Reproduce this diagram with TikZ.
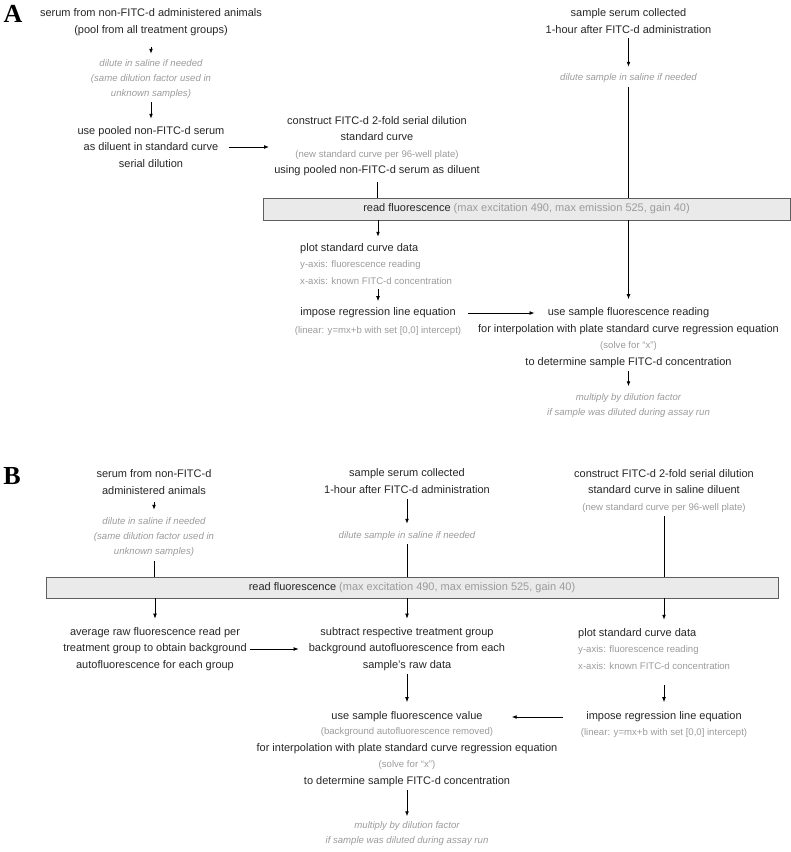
\documentclass[tikz,border=0pt]{standalone}
\usepackage{fontspec}
\setmainfont{Liberation Sans}
\newfontfamily\panelfont{Liberation Serif}
\usetikzlibrary{arrows.meta}
\definecolor{notegray}{RGB}{155,155,155}
\definecolor{boxgray}{RGB}{234,234,234}
\definecolor{edgegray}{RGB}{95,95,95}
\newcommand{\gr}[1]{{\fontsize{9.6}{15}\selectfont\color{notegray}#1}}
\begin{document}
\begin{tikzpicture}[x=1pt,y=-1pt,
                    txt/.style={align=center,inner sep=0pt,font=\fontsize{11}{16.5}\selectfont,text=black!85},
                    note/.style={align=center,inner sep=0pt,font=\fontsize{9.6}{15}\selectfont\itshape,text=notegray},
                    sub/.style={align=center,inner sep=0pt,font=\fontsize{9.6}{15}\selectfont,text=notegray},
                    readbox/.style={draw=edgegray,fill=boxgray,line width=0.8pt,inner sep=0pt,font=\fontsize{11}{16}\selectfont,text=black!85},
                    panel/.style={inner sep=0pt,font=\panelfont\bfseries\fontsize{26}{26}\selectfont},
                    arr/.style={-{Latex[length=5pt,width=3.8pt]},line width=0.8pt},
                    lin/.style={line width=0.8pt}]
                        \useasboundingbox (0,0) rectangle (791,852);
                        % panel A
                        \node[panel] (labA) at (13,14) {A};
                        \node[txt] (srmA) at (151,22) {serum from non-FITC-d administered animals\\(pool from all treatment groups)};
                        \node[note] (dilA) at (151,79) {dilute in saline if needed\\(same dilution factor used in\\unknown samples)};
                        \node[txt] (poolA) at (151,147) {use pooled non-FITC-d serum\\as diluent in standard curve\\serial dilution};
                        \node[txt] (stdA) at (377,146) {construct FITC-d 2-fold serial dilution\\standard curve\\\gr{(new standard curve per 96-well plate)}\\using pooled non-FITC-d serum as diluent};
                        \node[txt] (smpA) at (628.5,21) {sample serum collected\\1-hour after FITC-d administration};
                        \node[note] (sdilA) at (628.5,78) {dilute sample in saline if needed};
                        \node[readbox,minimum width=527pt,minimum height=22pt] (readA) at (526.5,209) {read fluorescence \textcolor{notegray}{(max excitation 490, max emission 525, gain 40)}};
                        \node[txt,align=left,anchor=west] (plotA) at (300,264) {plot standard curve data\\\gr{y-axis: fluorescence reading}\\\gr{x-axis: known FITC-d concentration}};
                        \node[txt] (regA) at (378,313) {impose regression line equation};
                        \node[sub] (regNoteA) at (378,331) {(linear: y=mx+b with set [0,0] intercept)};
                        \node[txt] (useA) at (628.5,313) {use sample fluorescence reading};
                        \node[txt] (useInfoA) at (628.5,346) {for interpolation with plate standard curve regression equation\\\gr{(solve for ``x'')}\\to determine sample FITC-d concentration};
                        \node[note] (mulA) at (628.5,406) {multiply by dilution factor\\if sample was diluted during assay run};
                        \draw[arr,shorten <=11.5pt,shorten >=5.5pt] (srmA) -- (dilA);
                        \draw[arr,shorten <=3.5pt,shorten >=7.5pt] (dilA) -- (poolA);
                        \draw[arr,shorten <=4pt,shorten >=5pt] (poolA.east) -- (poolA.east -| stdA.west);
                        \draw[lin,shorten <=5.5pt] (stdA.south) -- (stdA.south |- readA.north);
                        \draw[arr,shorten <=4.5pt,shorten >=6.5pt] (smpA) -- (sdilA);
                        \draw[lin,shorten <=4.5pt] (sdilA.south) -- (sdilA.south |- readA.north);
                        \draw[arr,shorten >=8.5pt] (readA.south -| useA) -- (useA.north);
                        \draw[arr,shorten >=6.5pt] (readA.south -| regA) -- (plotA.north -| regA);
                        \draw[arr,shorten <=4.5pt,shorten >=6.5pt] (plotA.south -| regA) -- (regA.north);
                        \draw[arr,shorten <=12pt,shorten >=13pt] (regA.east) -- (regA.east -| useA.west);
                        \draw[arr,shorten <=3.5pt,shorten >=7.5pt] (useInfoA.south) -- (mulA.north);
                        % panel B
                        \node[panel] (labB) at (12,476) {B};
                        \node[txt] (srmB) at (154,482) {serum from non-FITC-d\\administered animals};
                        \node[note] (dilB) at (154,537) {dilute in saline if needed\\(same dilution factor used in\\unknown samples)};
                        \node[txt] (smpB) at (407,481) {sample serum collected\\1-hour after FITC-d administration};
                        \node[note] (sdilB) at (407,536) {dilute sample in saline if needed};
                        \node[txt] (stdB) at (664,491) {construct FITC-d 2-fold serial dilution\\standard curve in saline diluent\\\gr{(new standard curve per 96-well plate)}};
                        \node[readbox,minimum width=732pt,minimum height=21pt] (readB) at (412,587.5) {read fluorescence \textcolor{notegray}{(max excitation 490, max emission 525, gain 40)}};
                        \node[txt] (avgB) at (155,649) {average raw fluorescence read per\\treatment group to obtain background\\autofluorescence for each group};
                        \node[txt] (subB) at (407,649) {subtract respective treatment group\\background autofluorescence from each\\sample's raw data};
                        \node[txt,align=left,anchor=west] (plotB) at (578,649) {plot standard curve data\\\gr{y-axis: fluorescence reading}\\\gr{x-axis: known FITC-d concentration}};
                        \node[txt] (regB) at (664,717) {impose regression line equation};
                        \node[sub] (regNoteB) at (664,733) {(linear: y=mx+b with set [0,0] intercept)};
                        \node[txt] (useB) at (407,717) {use sample fluorescence value};
                        \node[txt] (useInfoB) at (407,757) {\gr{(background autofluorescence removed)}\\for interpolation with plate standard curve regression equation\\\gr{(solve for ``x'')}\\to determine sample FITC-d concentration};
                        \node[note] (mulB) at (407,834) {multiply by dilution factor\\if sample was diluted during assay run};
                        \draw[arr,shorten <=7.5pt,shorten >=7.5pt] (srmB) -- (dilB);
                        \draw[lin,shorten <=4.5pt] (dilB.south) -- (dilB.south |- readB.north);
                        \draw[arr,shorten <=5.5pt,shorten >=7.5pt] (smpB) -- (sdilB);
                        \draw[lin,shorten <=3.5pt] (sdilB.south) -- (sdilB.south |- readB.north);
                        \draw[lin,shorten <=3.5pt] (stdB.south) -- (stdB.south |- readB.north);
                        \draw[arr,shorten >=8.5pt] (readB.south -| avgB) -- (avgB.north);
                        \draw[arr,shorten >=8.5pt] (readB.south -| subB) -- (subB.north);
                        \draw[arr,shorten >=8.5pt] (readB.south -| regB) -- (plotB.north -| regB);
                        \draw[arr,shorten <=3pt,shorten >=10pt] (avgB) -- (subB);
                        \draw[arr,shorten <=3.5pt,shorten >=9.5pt] (subB) -- (useB);
                        \draw[arr,shorten <=15.5pt,shorten >=9.5pt] (plotB.south -| regB) -- (regB.north);
                        \draw[arr,shorten <=23.5pt,shorten >=29pt] (regB.west) -- (regB.west -| useB.east);
                        \draw[arr,shorten <=3.5pt,shorten >=5.5pt] (useInfoB) -- (mulB);
                    \end{tikzpicture}
\end{document}
